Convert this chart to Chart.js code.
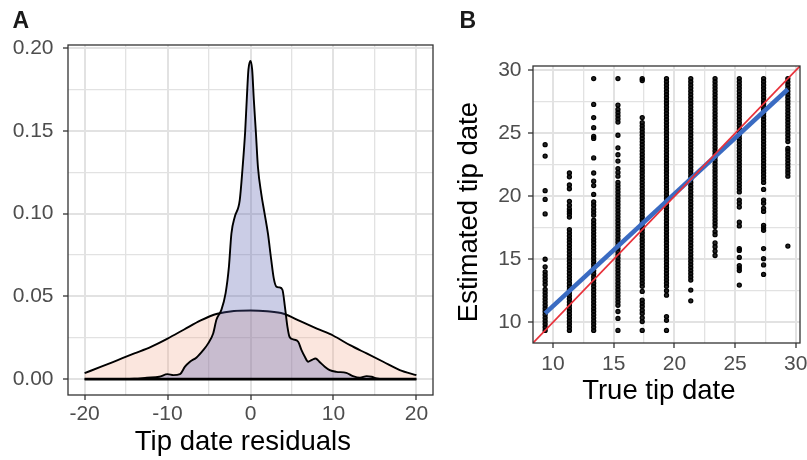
<!DOCTYPE html>
<html><head><meta charset="utf-8">
<script src="https://cdn.jsdelivr.net/npm/chart.js@4.4.1/dist/chart.umd.min.js"></script>
<style>
html,body{margin:0;padding:0;background:#fff;width:807px;height:460px;overflow:hidden;}
#wrapA{position:absolute;left:0;top:0;width:440px;height:460px;}
#wrapB{position:absolute;left:440px;top:0;width:367px;height:410px;}
.tag{position:absolute;z-index:5;font-family:"Liberation Sans",Arial,sans-serif;font-weight:bold;font-size:23px;line-height:23px;color:#1a1a1a;}
</style></head><body>
<div class="tag" style="left:12.5px;top:9px">A</div>
<div class="tag" style="left:459.5px;top:8.5px">B</div>
<div id="wrapA"><canvas id="cA" width="440" height="460"></canvas></div>
<div id="wrapB"><canvas id="cB" width="367" height="410"></canvas></div>
<script>
// ---------- Panel A: density of tip date residuals ----------
const blueX = [-20, -15, -14, -12.5, -11, -10, -9.3, -8.5, -7.9, -7.3, -6.5, -5.7, -5.1, -4.5, -4.1, -3.5, -3.0, -2.6, -2.3, -1.9, -1.3, -0.95, -0.65, -0.45, -0.25, 0, 0.2, 0.4, 0.65, 0.9, 1.3, 1.7, 2.1, 2.5, 2.8, 3.1, 3.5, 3.85, 4.15, 4.45, 4.7, 5.15, 5.75, 6.15, 6.55, 6.95, 7.35, 7.85, 8.3, 8.95, 9.55, 10.35, 11.55, 12.35, 13.2, 14.0, 14.6, 15.2, 16, 20];
const blueY = [0, 0, 0.0002, 0.0008, 0.0014, 0.003, 0.0024, 0.003, 0.0075, 0.0105, 0.0131, 0.0175, 0.0216, 0.0276, 0.036, 0.042, 0.052, 0.068, 0.088, 0.098, 0.108, 0.128, 0.149, 0.169, 0.187, 0.1923, 0.187, 0.169, 0.149, 0.128, 0.112, 0.100, 0.088, 0.072, 0.061, 0.056, 0.0554, 0.054, 0.0437, 0.0317, 0.0256, 0.024, 0.0226, 0.0175, 0.0135, 0.0105, 0.0115, 0.0125, 0.0105, 0.0075, 0.0054, 0.0044, 0.0038, 0.0018, 0.0008, 0.0018, 0.0014, 0.0004, 0, 0];
const redX = [-20, -18, -16, -14, -12, -10, -8, -6, -4, -2, 0, 2, 4, 6, 8, 10, 12, 14, 16, 18, 20];
const redY = [0.0036, 0.0075, 0.0115, 0.0155, 0.0195, 0.0245, 0.0300, 0.0355, 0.0395, 0.0412, 0.0415, 0.0410, 0.0395, 0.0350, 0.0305, 0.0262, 0.0205, 0.0155, 0.0105, 0.0055, 0.0024];
const baseX = [-20, 20];
const baseY = [0, 0];
const xTicksA = [-20, -15, -10, -5, 0, 5, 10, 15, 20];
const xMajorA = [-20, -10, 0, 10, 20];
const yTicksA = [0, 0.025, 0.05, 0.075, 0.1, 0.125, 0.15, 0.175, 0.2];
const yMajorA = [0, 0.05, 0.1, 0.15, 0.2];

// ---------- Panel B: estimated vs true tip date ----------
const trueX = [9.35, 11.35, 13.35, 15.35, 17.35, 19.35, 21.35, 23.35, 25.35, 27.35, 29.35];
const est1 = [24.1, 23.2, 20.45, 19.75, 18.6, 15.0, 14.4, 14.0, 13.75, 13.5, 13.25, 13.0, 12.6, 12.35, 12.1, 11.85, 11.6, 11.35, 11.1, 10.85, 10.6, 10.35, 10.1, 9.85, 9.6, 9.35];
const est2 = [21.85, 21.55, 20.9, 20.6, 19.6, 19.3, 19.0, 18.8, 18.6, 18.35, 17.35, 17.1, 16.85, 16.6, 16.35, 16.1, 15.85, 15.6, 15.35, 15.1, 14.85, 14.6, 14.35, 14.1, 13.85, 13.6, 13.35, 13.1, 12.85, 12.6, 12.35, 12.1, 11.85, 11.6, 11.35, 11.1, 10.85, 10.6, 10.35, 10.1, 9.85, 9.6, 9.35];
const est3 = [29.35, 27.3, 26.25, 25.45, 24.75, 24.6, 23.05, 21.85, 21.2, 20.85, 20.15, 19.55, 19.3, 19.0, 18.75, 18.5, 18.1, 17.85, 17.6, 17.35, 17.1, 16.85, 16.6, 16.35, 16.1, 15.85, 15.6, 15.35, 15.1, 14.85, 14.6, 14.35, 14.1, 13.85, 13.6, 13.35, 13.1, 12.85, 12.6, 12.35, 12.1, 11.85, 11.6, 11.35, 11.1, 10.85, 10.6, 10.35, 10.1, 9.85, 9.6, 9.35];
const est4 = [29.35, 27.25, 26.9, 26.65, 26.4, 26.15, 25.9, 24.85, 23.85, 23.3, 22.8, 22.2, 21.9, 21.6, 21.1, 20.85, 20.6, 20.35, 20.1, 19.85, 19.6, 19.35, 19.1, 18.85, 18.6, 18.35, 18.1, 17.85, 17.6, 17.35, 17.1, 16.85, 16.6, 16.35, 16.1, 15.85, 15.6, 15.35, 15.1, 14.85, 14.6, 14.35, 14.1, 13.85, 13.6, 13.35, 13.1, 12.85, 12.6, 12.35, 12.1, 11.85, 11.6, 11.35, 10.85, 10.3, 9.35];
const est5 = [29.35, 29.2, 26.25, 25.85, 25.6, 25.35, 25.1, 24.85, 24.6, 24.35, 24.1, 23.85, 23.6, 23.35, 23.1, 22.85, 22.6, 22.35, 22.1, 21.85, 21.6, 21.35, 21.1, 20.85, 20.6, 20.35, 20.1, 19.85, 19.6, 19.35, 19.1, 18.85, 18.6, 18.35, 18.1, 17.85, 17.6, 17.35, 17.1, 16.85, 16.6, 16.35, 16.1, 15.85, 15.6, 15.35, 15.1, 14.85, 14.6, 14.35, 14.1, 13.85, 13.6, 13.35, 13.1, 12.85, 12.45, 11.75, 11.5, 11.25, 10.95, 10.7, 10.35, 10.05, 9.35];
const est6 = [29.35, 29.1, 28.85, 28.6, 28.35, 28.1, 27.85, 27.6, 27.35, 27.1, 26.85, 26.6, 26.35, 26.1, 25.85, 25.6, 25.35, 25.1, 24.85, 24.6, 24.35, 24.1, 23.85, 23.6, 23.35, 23.1, 22.85, 22.6, 22.35, 22.1, 21.85, 21.6, 21.35, 21.1, 20.85, 20.6, 20.35, 20.1, 19.85, 19.6, 19.35, 19.1, 18.85, 18.6, 18.35, 18.1, 17.85, 17.6, 17.35, 17.1, 16.85, 16.6, 16.35, 16.1, 15.85, 15.6, 15.35, 15.1, 14.85, 14.6, 14.35, 14.1, 13.85, 13.6, 13.35, 13.1, 12.85, 12.5, 12.15, 10.45, 10.15, 9.35];
const est7 = [29.35, 29.1, 28.85, 28.6, 28.35, 28.1, 27.85, 27.6, 27.35, 27.1, 26.85, 26.6, 26.35, 26.1, 25.85, 25.6, 25.35, 25.1, 24.85, 24.6, 24.35, 24.1, 23.85, 23.6, 23.35, 23.1, 22.85, 22.6, 22.35, 22.1, 21.85, 21.6, 21.35, 21.1, 20.85, 20.6, 20.35, 20.1, 19.85, 19.6, 19.35, 19.1, 18.85, 18.6, 18.35, 18.1, 17.85, 17.6, 17.35, 17.1, 16.85, 16.6, 16.35, 16.1, 15.85, 15.6, 15.35, 15.1, 14.85, 14.6, 14.35, 14.1, 13.85, 13.6, 13.35, 12.55, 11.7];
const est8 = [29.35, 29.1, 28.85, 28.6, 28.35, 28.1, 27.85, 27.6, 27.35, 27.1, 26.85, 26.6, 26.35, 26.1, 25.85, 25.6, 25.35, 25.1, 24.85, 24.6, 24.35, 24.1, 23.85, 23.6, 23.35, 23.1, 22.85, 22.6, 22.35, 22.1, 21.85, 21.6, 21.35, 21.1, 20.85, 20.6, 20.35, 20.1, 19.85, 19.6, 19.35, 19.1, 18.85, 18.6, 18.35, 18.1, 17.85, 17.6, 17.2, 16.95, 16.3, 16.0, 15.65, 15.3];
const est9 = [29.35, 29.1, 28.85, 28.6, 28.35, 28.1, 27.85, 27.6, 27.35, 27.1, 26.85, 26.6, 26.35, 26.1, 25.85, 25.6, 25.35, 25.1, 24.85, 24.6, 24.35, 24.1, 23.85, 23.6, 23.35, 23.1, 22.85, 22.6, 22.35, 22.1, 21.85, 21.6, 21.35, 21.1, 20.85, 20.6, 20.35, 19.7, 19.45, 19.15, 17.95, 17.65, 15.85, 15.7, 15.15, 14.5, 14.3, 14.1, 12.95];
const est10 = [29.35, 29.1, 28.85, 28.6, 28.35, 28.1, 27.85, 27.6, 27.35, 27.1, 26.85, 26.6, 26.35, 26.1, 25.85, 25.6, 25.35, 25.1, 24.85, 24.6, 24.35, 24.1, 23.85, 23.6, 23.35, 23.1, 22.85, 22.6, 22.35, 22.1, 21.85, 21.6, 21.35, 21.1, 20.55, 19.7, 19.45, 19.05, 18.8, 17.7, 17.5, 17.3, 15.85, 15.05, 14.55, 13.8];
const est11 = [29.35, 29.1, 28.85, 28.6, 28.35, 28.1, 27.85, 27.6, 27.35, 27.1, 26.85, 26.6, 26.35, 26.1, 25.85, 25.6, 25.35, 25.1, 24.85, 24.6, 24.35, 23.8, 23.6, 23.35, 23.1, 22.85, 22.6, 22.35, 22.1, 21.85, 21.6, 16.05];
const estCols = [est1, est2, est3, est4, est5, est6, est7, est8, est9, est10, est11];
const lmX = [9.35, 29.35];
const lmY = [10.7, 28.5];
const idLine = [8.35, 30.35];
const ticksB = [10, 12.5, 15, 17.5, 20, 22.5, 25, 27.5, 30];
const majorB = [10, 15, 20, 25, 30];

// ---------- helpers ----------
const FAM = '"Liberation Sans", Arial, sans-serif';
const isMaj = (v, list) => list.some(m => Math.abs(m - v) < 1e-9);
const frame = {
  id: 'frame',
  afterDatasetsDraw(chart) {
    const {ctx, chartArea: a} = chart;
    ctx.save();
    ctx.strokeStyle = '#333333';
    ctx.lineWidth = 1.3;
    ctx.strokeRect(a.left, a.top, a.right - a.left, a.bottom - a.top);
    ctx.restore();
  }
};
function axis(cfg) {
  const {ticksList, majors, min, max, fmt, size, horiz, pad, title, titlePad} = cfg;
  const sc = {
    type: 'linear', min, max,
    afterBuildTicks: s => { s.ticks = ticksList.map(v => ({value: v})); },
    afterFit: s => {
      if (horiz) { s.height = size; s.paddingLeft = 0; s.paddingRight = 0; }
      else { s.width = size; s.paddingTop = 0; s.paddingBottom = 0; }
    },
    border: {display: false},
    grid: {
      color: '#e2e2e2',
      lineWidth: c => (c.tick && isMaj(c.tick.value, majors)) ? 2.0 : 1.3,
      tickColor: c => (c.tick && isMaj(c.tick.value, majors)) ? '#333333' : 'rgba(0,0,0,0)',
      tickWidth: 1.3,
      tickLength: 5,
      drawTicks: true
    },
    ticks: {
      autoSkip: false, maxRotation: 0, minRotation: 0, padding: pad,
      color: '#4d4d4d', font: {family: FAM, size: 21},
      callback: v => isMaj(v, majors) ? fmt(v) : ''
    }
  };
  if (title) {
    sc.title = {display: true, text: title, color: '#000', font: {family: FAM, size: 27.5}, padding: titlePad};
  }
  return sc;
}

// ---------- Panel A ----------
new Chart(document.getElementById('cA'), {
  type: 'scatter',
  data: {
    datasets: [
      {data: baseX.map((x, i) => ({x, y: baseY[i]})), showLine: true, borderColor: '#000', borderWidth: 2.6, pointRadius: 0, fill: false},
      {data: blueX.map((x, i) => ({x, y: blueY[i]})), showLine: true, borderColor: '#000', borderWidth: 1.9,
       backgroundColor: 'rgba(82,88,172,0.3)', fill: 'origin', pointRadius: 0, cubicInterpolationMode: 'monotone'},
      {data: redX.map((x, i) => ({x, y: redY[i]})), showLine: true, borderColor: '#000', borderWidth: 1.9,
       backgroundColor: 'rgba(240,165,135,0.28)', fill: 'origin', pointRadius: 0, cubicInterpolationMode: 'monotone'}
    ]
  },
  options: {
    responsive: false, animation: false,
    layout: {padding: {top: 45, right: 7, left: 0, bottom: 0}},
    plugins: {legend: {display: false}, tooltip: {enabled: false}},
    scales: {
      x: axis({ticksList: xTicksA, majors: xMajorA, min: -22, max: 22, fmt: v => String(v), size: 65, horiz: true, pad: 2,
               title: 'Tip date residuals  ', titlePad: {top: 0, bottom: 1}}),
      y: axis({ticksList: yTicksA, majors: yMajorA, min: -0.0096, max: 0.2019, fmt: v => v.toFixed(2), size: 68, horiz: false, pad: 9.5})
    }
  },
  plugins: [frame]
});

// ---------- Panel B ----------
const pts = trueX.flatMap((x, i) => estCols[i].map(y => ({x, y})));
new Chart(document.getElementById('cB'), {
  type: 'scatter',
  data: {
    datasets: [
      {data: idLine.map(v => ({x: v, y: v})), showLine: true, borderColor: '#e8313a', borderWidth: 1.7, pointRadius: 0},
      {data: lmX.map((x, i) => ({x, y: lmY[i]})), showLine: true, borderColor: '#3a6bc2', borderWidth: 4.6, pointRadius: 0},
      {data: pts, pointRadius: 2.0, pointBorderWidth: 1.3, borderColor: '#000', backgroundColor: 'rgba(0,0,0,0.85)'}
    ]
  },
  options: {
    responsive: false, animation: false,
    layout: {padding: {top: 66, right: 7, left: 0, bottom: 0}},
    plugins: {legend: {display: false}, tooltip: {enabled: false}},
    scales: {
      x: axis({ticksList: ticksB, majors: majorB, min: 8.35, max: 30.35, fmt: v => String(v), size: 67, horiz: true, pad: 4,
               title: 'True tip date  ', titlePad: {top: 0, bottom: 2}}),
      y: axis({ticksList: ticksB, majors: majorB, min: 8.35, max: 30.35, fmt: v => String(v), size: 93, horiz: false, pad: 6.5,
               title: 'Estimated tip date  ', titlePad: {top: 12.5, bottom: 0}})
    }
  },
  plugins: [frame]
});
</script>
</body></html>
